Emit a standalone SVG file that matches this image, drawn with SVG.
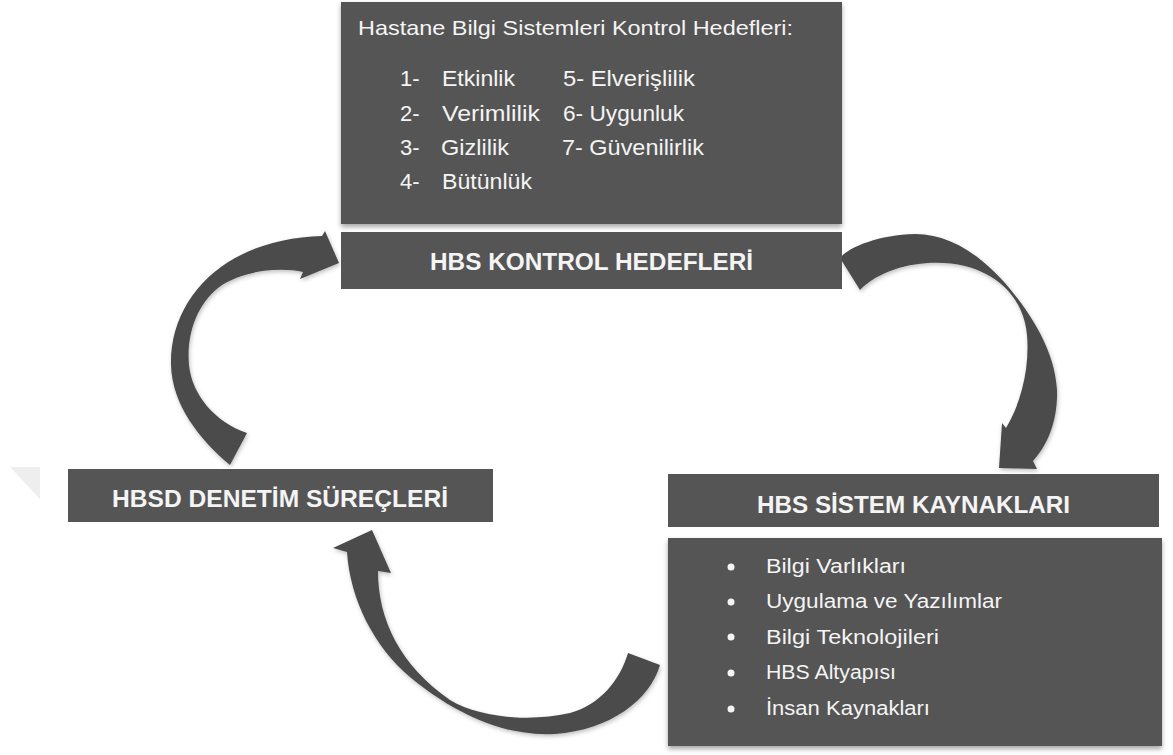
<svg xmlns="http://www.w3.org/2000/svg" width="1173" height="755" viewBox="0 0 1173 755">
  <defs>
    <filter id="sh" x="-5%" y="-5%" width="110%" height="115%">
      <feDropShadow dx="0" dy="3" stdDeviation="2.5" flood-color="#000" flood-opacity="0.35"/>
    </filter>
    <filter id="ash" x="-10%" y="-10%" width="120%" height="120%">
      <feDropShadow dx="1" dy="2" stdDeviation="2" flood-color="#000" flood-opacity="0.25"/>
    </filter>
  </defs>
  <style>
    .box { fill: #555555; }
    .arrow { fill: #4b4b4b; filter: url(#ash); }
    .t { font-family: "Liberation Sans", Arial, sans-serif; fill: #f4f4f4; }
    .ttl { font-family: "Liberation Sans", Arial, sans-serif; font-weight: bold; fill: #f4f4f4; font-size: 23px; }
    .lst { font-size: 22px; }
    .rl { font-size: 20px; }
  </style>
  <rect width="1173" height="755" fill="#ffffff"/>
  <polygon points="10,467 40,467 40,499" fill="#eeeeee"/>

  <g id="connectors">
    <path class="arrow" d="M230,465 C200,440 172,405 171,365 C170,320 195,280 235,258 C260,244 290,237 322,236 L325,231 L339,263 L300,279 L303,272 C285,268 250,268 222,285 C200,300 186,330 189,365 C192,395 215,422 247,433 Z"/>
    <path class="arrow" d="M840,258 C850,246 880,235 915,234 C950,234 980,255 1005,283 C1030,312 1055,350 1057,390 C1058,420 1048,445 1033,461 L1037,469 L999,468 L1002,423 L1006,428 C1020,405 1030,370 1027,335 C1024,300 1000,275 965,266 C930,258 885,265 860,290 Z"/>
    <path class="arrow" d="M660,665 C650,700 610,730 555,734 C500,737 450,710 410,677 C375,648 350,600 347,552 L333,548 L372,530 L391,573 L378,571 C378,620 400,665 450,700 C480,718 530,722 570,713 C600,705 620,680 628,653 Z"/>
  </g>

  <g id="node-hedefler-detay">
    <rect class="box" x="341" y="2" width="501" height="222" filter="url(#sh)"/>
    <text class="t" x="358" y="35" font-size="21" textLength="435" lengthAdjust="spacingAndGlyphs">Hastane Bilgi Sistemleri Kontrol Hedefleri:</text>
    <text class="t lst" x="400" y="86">1-</text>
    <text class="t lst" x="442" y="86" textLength="73" lengthAdjust="spacingAndGlyphs">Etkinlik</text>
    <text class="t lst" x="400" y="121">2-</text>
    <text class="t lst" x="442" y="121" textLength="98" lengthAdjust="spacingAndGlyphs">Verimlilik</text>
    <text class="t lst" x="400" y="155">3-</text>
    <text class="t lst" x="441" y="155" textLength="68" lengthAdjust="spacingAndGlyphs">Gizlilik</text>
    <text class="t lst" x="400" y="189">4-</text>
    <text class="t lst" x="442" y="189" textLength="90" lengthAdjust="spacingAndGlyphs">Bütünlük</text>
    <text class="t lst" x="563" y="86" textLength="132" lengthAdjust="spacingAndGlyphs">5- Elverişlilik</text>
    <text class="t lst" x="563" y="121" textLength="121" lengthAdjust="spacingAndGlyphs">6- Uygunluk</text>
    <text class="t lst" x="562" y="155" textLength="142" lengthAdjust="spacingAndGlyphs">7- Güvenilirlik</text>
  </g>

  <g id="node-hbs-kontrol-hedefleri">
    <rect class="box" x="341" y="232" width="501" height="57"/>
    <text class="ttl" x="430" y="270" textLength="323" lengthAdjust="spacingAndGlyphs">HBS KONTROL HEDEFLERİ</text>
  </g>

  <g id="node-hbsd-denetim">
    <rect class="box" x="68" y="469" width="425" height="53"/>
    <text class="ttl" x="112" y="507" textLength="336" lengthAdjust="spacingAndGlyphs">HBSD DENETİM SÜREÇLERİ</text>
  </g>

  <g id="node-hbs-sistem-kaynaklari">
    <rect class="box" x="668" y="474" width="491" height="53"/>
    <text class="ttl" x="757" y="513" textLength="313" lengthAdjust="spacingAndGlyphs">HBS SİSTEM KAYNAKLARI</text>
  </g>

  <g id="node-kaynak-listesi">
    <rect class="box" x="668" y="538" width="494" height="208" filter="url(#sh)"/>
    <g fill="#f4f4f4">
      <circle cx="731" cy="567" r="3.5"/>
      <circle cx="731" cy="602" r="3.5"/>
      <circle cx="731" cy="637" r="3.5"/>
      <circle cx="731" cy="673" r="3.5"/>
      <circle cx="731" cy="709" r="3.5"/>
    </g>
    <text class="t rl" x="766" y="573" textLength="140" lengthAdjust="spacingAndGlyphs">Bilgi Varlıkları</text>
    <text class="t rl" x="766" y="608" textLength="236" lengthAdjust="spacingAndGlyphs">Uygulama ve Yazılımlar</text>
    <text class="t rl" x="766" y="644" textLength="173" lengthAdjust="spacingAndGlyphs">Bilgi Teknolojileri</text>
    <text class="t rl" x="766" y="679" textLength="130" lengthAdjust="spacingAndGlyphs">HBS Altyapısı</text>
    <text class="t rl" x="766" y="715" textLength="164" lengthAdjust="spacingAndGlyphs">İnsan Kaynakları</text>
  </g>
</svg>
